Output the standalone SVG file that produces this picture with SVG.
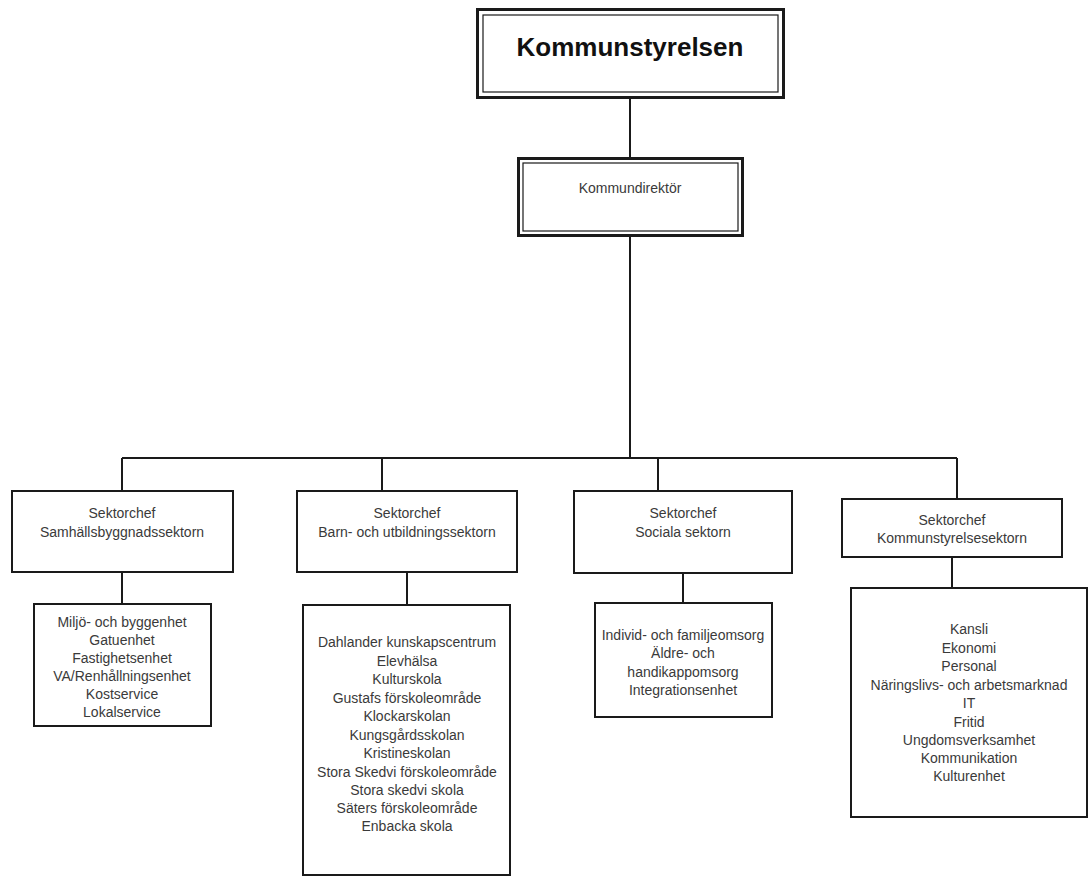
<svg xmlns="http://www.w3.org/2000/svg" width="1091" height="881" viewBox="0 0 1091 881">
<style>
  .box { fill: #ffffff; stroke: #1a1a1a; stroke-width: 2; }
  .thick { fill: #ffffff; stroke: #1a1a1a; stroke-width: 3; }
  .thin { fill: none; stroke: #1a1a1a; stroke-width: 1.2; }
  .conn { fill: none; stroke: #1a1a1a; stroke-width: 2; }
  .t { font-family: "Liberation Sans", Arial, sans-serif; font-size: 14px; fill: #3a3a3a; text-anchor: middle; dominant-baseline: central; }
  .title { font-family: "Liberation Sans", Arial, sans-serif; font-size: 26px; font-weight: bold; fill: #111111; text-anchor: middle; }
</style>
<rect width="1091" height="881" fill="#ffffff"/>

<g id="connectors">
  <path class="conn" d="M630 98 V157"/>
  <path class="conn" d="M630 237 V458"/>
  <path class="conn" d="M122 458 H957"/>
  <path class="conn" d="M122 458 V491"/>
  <path class="conn" d="M382 458 V491"/>
  <path class="conn" d="M658 458 V491"/>
  <path class="conn" d="M957 458 V499"/>
  <path class="conn" d="M122 572 V604"/>
  <path class="conn" d="M407 572 V605"/>
  <path class="conn" d="M683 573 V603"/>
  <path class="conn" d="M952 557 V588"/>
</g>

<g id="kommunstyrelsen">
  <rect class="thick" x="477.5" y="9.5" width="306" height="88"/>
  <rect class="thin" x="483" y="15" width="295" height="77"/>
  <text class="title" x="630" y="56">Kommunstyrelsen</text>
</g>

<g id="kommundirektor">
  <rect class="thick" x="518.5" y="158.5" width="224" height="77"/>
  <rect class="thin" x="523" y="163" width="215" height="68"/>
  <text class="t" x="630" y="188">Kommundirektör</text>
</g>

<g id="sektor-samhallsbyggnad">
  <rect class="box" x="12" y="491" width="221" height="81"/>
  <text class="t" x="122" y="513">Sektorchef</text>
  <text class="t" x="122" y="532">Samhällsbyggnadssektorn</text>
</g>

<g id="sektor-barn">
  <rect class="box" x="297" y="491" width="220" height="81"/>
  <text class="t" x="407" y="513">Sektorchef</text>
  <text class="t" x="407" y="532">Barn- och utbildningssektorn</text>
</g>

<g id="sektor-sociala">
  <rect class="box" x="574" y="491" width="218" height="82"/>
  <text class="t" x="683" y="513">Sektorchef</text>
  <text class="t" x="683" y="532">Sociala sektorn</text>
</g>

<g id="sektor-kommunstyrelse">
  <rect class="box" x="842" y="499" width="220" height="58"/>
  <text class="t" x="952" y="520">Sektorchef</text>
  <text class="t" x="952" y="538">Kommunstyrelsesektorn</text>
</g>

<g id="enheter-samhallsbyggnad">
  <rect class="box" x="34" y="604" width="177" height="122"/>
  <text class="t" x="122" y="622">Miljö- och byggenhet</text>
  <text class="t" x="122" y="640">Gatuenhet</text>
  <text class="t" x="122" y="658">Fastighetsenhet</text>
  <text class="t" x="122" y="676">VA/Renhållningsenhet</text>
  <text class="t" x="122" y="694">Kostservice</text>
  <text class="t" x="122" y="712">Lokalservice</text>
</g>

<g id="enheter-barn">
  <rect class="box" x="303" y="605" width="207" height="270"/>
  <text class="t" x="407" y="642">Dahlander kunskapscentrum</text>
  <text class="t" x="407" y="661">Elevhälsa</text>
  <text class="t" x="407" y="679">Kulturskola</text>
  <text class="t" x="407" y="698">Gustafs förskoleområde</text>
  <text class="t" x="407" y="716">Klockarskolan</text>
  <text class="t" x="407" y="735">Kungsgårdsskolan</text>
  <text class="t" x="407" y="753">Kristineskolan</text>
  <text class="t" x="407" y="772">Stora Skedvi förskoleområde</text>
  <text class="t" x="407" y="790">Stora skedvi skola</text>
  <text class="t" x="407" y="808">Säters förskoleområde</text>
  <text class="t" x="407" y="826">Enbacka skola</text>
</g>

<g id="enheter-sociala">
  <rect class="box" x="595" y="603" width="177" height="114"/>
  <text class="t" x="683" y="635">Individ- och familjeomsorg</text>
  <text class="t" x="683" y="653">Äldre- och</text>
  <text class="t" x="683" y="672">handikappomsorg</text>
  <text class="t" x="683" y="690">Integrationsenhet</text>
</g>

<g id="enheter-kommunstyrelse">
  <rect class="box" x="851" y="588" width="236" height="229"/>
  <text class="t" x="969" y="629">Kansli</text>
  <text class="t" x="969" y="648">Ekonomi</text>
  <text class="t" x="969" y="666">Personal</text>
  <text class="t" x="969" y="685">Näringslivs- och arbetsmarknad</text>
  <text class="t" x="969" y="703">IT</text>
  <text class="t" x="969" y="722">Fritid</text>
  <text class="t" x="969" y="740">Ungdomsverksamhet</text>
  <text class="t" x="969" y="758">Kommunikation</text>
  <text class="t" x="969" y="776">Kulturenhet</text>
</g>
</svg>
